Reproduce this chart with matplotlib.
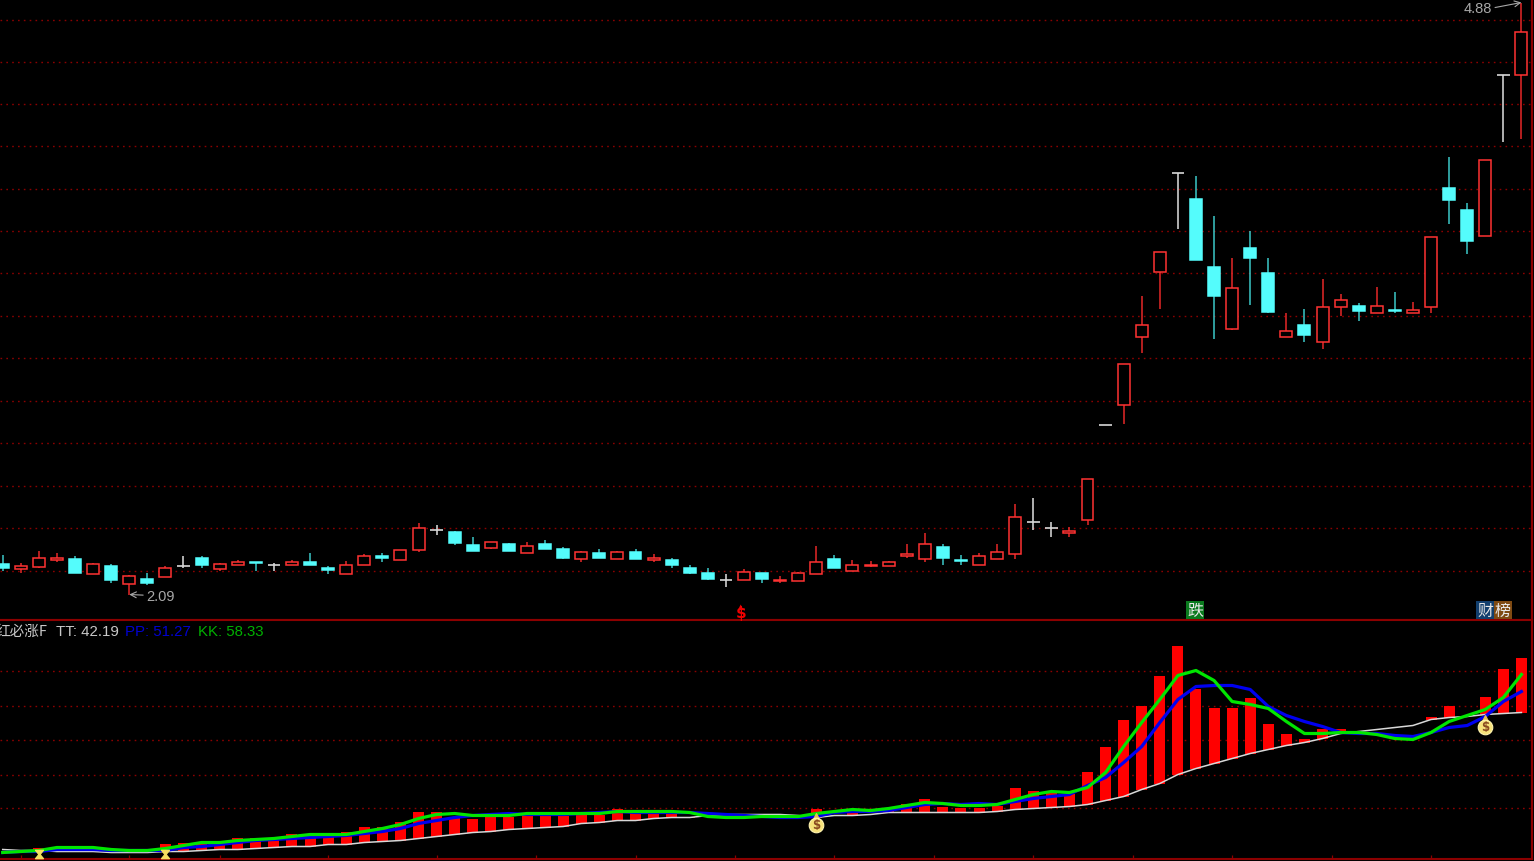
import matplotlib
matplotlib.use('Agg')
import matplotlib.pyplot as plt
import numpy as np

W, H = 1534, 862

# readings taken off the picture on its own (downward) vertical scale, one per session
OPEN = [564, 569, 567, 560, 559, 574, 566, 584, 579, 577, 566, 558, 569, 565, 562, 565, 565, 562, 568, 574, 565,
        556, 560, 550, 530, 532, 545, 548, 544, 553, 544, 549, 559, 553, 559, 552, 560, 560, 568, 573, 580, 580,
        573, 581, 581, 574, 559, 571, 566, 566, 556, 559, 547, 560, 565, 559, 554, 522, 528, 533, 520, 425, 405,
        337, 272, 173, 199, 267, 329, 248, 273, 337, 325, 342, 307, 306, 313, 310, 313, 307, 188, 210, 236, 75, 75]
CLOSE = [568, 566, 558, 558, 573, 564, 580, 577, 583, 568, 566, 565, 564, 562, 563.5, 565, 562, 565, 570, 565, 556,
         558, 550, 528, 530, 543, 551, 543, 551, 547, 549, 558, 552, 558, 552, 559, 558, 565, 573, 579, 580, 573,
         579, 580, 574, 562, 568, 565, 565, 562, 554, 544, 558, 561, 556, 552, 517, 522, 528, 531, 480, 425, 364,
         325, 252, 173, 260, 296, 289, 258, 312, 331, 336, 307, 300, 311, 306, 311, 310, 237, 201, 241, 161, 75, 32]
HIGH = [555, 563, 551, 553, 556, 563, 564, 575, 573, 566, 556, 556, 563, 560, 562, 563, 560, 553, 566, 561, 554,
        553, 550, 523, 525, 531, 537, 543, 543, 542, 540, 547, 551, 549, 551, 549, 554, 558, 565, 568, 574, 569,
        573, 576, 572, 546, 555, 560, 561, 561, 544, 533, 544, 555, 553, 544, 504, 498, 522, 527, 480, 425, 364,
        296, 252, 173, 176, 216, 258, 231, 258, 313, 309, 279, 294, 303, 287, 293, 302, 237, 157, 203, 161, 75, 3]
LOW = [571, 573, 568, 562, 573, 574, 583, 595, 585, 577, 568, 568, 571, 565, 571, 571, 565, 565, 574, 574, 565,
       562, 560, 552, 535, 545, 551, 549, 551, 553, 549, 559, 562, 558, 559, 559, 562, 568, 574, 580, 587, 580,
       583, 583, 581, 574, 568, 571, 567, 566, 558, 562, 565, 565, 565, 559, 559, 530, 537, 537, 525, 425, 424,
       353, 309, 229, 260, 339, 330, 305, 313, 337, 342, 349, 316, 321, 313, 313, 313, 313, 224, 254, 236, 142, 139]

TT = [850, 851, 851, 852, 852, 852, 853, 853, 853, 852, 852, 851, 850, 850, 849, 848, 847, 847, 845, 845, 843,
      842, 841, 839, 837, 835, 833, 832, 830, 829, 828, 827, 824, 823, 821, 821, 819, 818, 818, 816, 815, 815,
      815, 815, 816, 818, 816, 816, 815, 813, 813, 813, 813, 813, 813, 812, 810, 809, 808, 807, 805, 801, 797,
      790, 784, 775, 769, 764, 759, 754, 750, 746, 743, 739, 734, 732, 730, 728, 726, 720, 718, 717, 715, 714, 713]
BAR_TOP = [850, 851, 848, 847, 852, 847, 853, 853, 853, 844, 843, 842, 841, 838, 838, 838, 834, 837, 837, 832, 827,
           827, 822, 812, 812, 817, 819, 817, 817, 814, 815, 816, 812, 815, 809, 812, 812, 813, 817, 816, 815, 815,
           815, 815, 816, 809, 816, 813, 815, 808, 804, 799, 807, 808, 808, 806, 788, 791, 793, 794, 772, 747, 720,
           706, 676, 646, 689, 708, 708, 698, 724, 734, 739, 729, 729, 732, 730, 728, 726, 717, 706, 717, 697, 669, 658]
PP = [853, 852, 852, 850, 850, 850, 851, 851, 851, 851, 848, 847, 845, 843, 841, 840, 839, 838, 837, 836, 834,
      832, 829, 824, 821, 818, 816, 815, 814, 815, 815, 815, 814, 813, 812, 813, 813, 813, 813, 814, 815, 816,
      817, 818, 818, 817, 813, 812, 812, 811, 808, 805, 804, 805, 804, 805, 802, 799, 797, 795, 786, 778, 763,
      747, 723, 700, 687, 686, 686, 690, 707, 716, 722, 727, 733, 734, 734, 736, 737, 733, 728, 726, 717, 702, 692]
KK = [853, 852, 851, 848, 848, 848, 850, 851, 851, 849, 846, 843, 843, 841, 840, 839, 837, 835, 835, 835, 832,
      829, 825, 819, 815, 814, 816, 816, 816, 814, 814, 814, 814, 814, 812, 812, 812, 812, 813, 817, 818, 818,
      817, 817, 817, 814, 812, 810, 811, 809, 806, 803, 804, 806, 806, 805, 800, 795, 792, 793, 788, 773, 747,
      723, 700, 676, 671, 681, 702, 705, 709, 722, 734, 734, 733, 733, 735, 739, 740, 733, 722, 716, 710, 698, 675]

GRID_PRICE = [20, 62.5, 104.5, 146.5, 189, 231, 273, 316, 359, 401, 443, 486, 528, 571]
GRID_IND = [671, 706, 740, 775, 808]
DATE_TICKS = [1, 7, 12, 18, 24, 29.5, 35, 40.5, 46, 51.5, 57, 62.5, 68, 73.5, 79]
BAG_SESSIONS = [45, 82]
BAG_LEVELS = [825, 727]
GLASS_SESSIONS = [2, 9]


def to_price(reading):
    # the two printed extremes, 2.09 and 4.88, fix the price scale
    return 2.09 + (595 - np.asarray(reading, dtype=float)) * (4.88 - 2.09) / (595 - 3)


def to_ind(reading):
    # last TT and KK values fix the indicator scale
    return 42.19 + (713 - np.asarray(reading, dtype=float)) * (58.33 - 42.19) / (713 - 675)


def px_axes(fig, left, top, right, bottom):
    ax = fig.add_axes([left / W, 1 - bottom / H, (right - left) / W, (bottom - top) / H])
    ax.set_facecolor('black')
    ax.set_xlim((left - 2.7) / 18.08, (right - 2.7) / 18.08)
    for side in ax.spines:
        ax.spines[side].set_color('#8c0000')
        ax.spines[side].set_linewidth(1.5)
    ax.spines['left'].set_visible(False)
    ax.tick_params(left=False, labelleft=False, labelbottom=False, bottom=False)
    ax.grid(axis='y', color='#8c0000', linewidth=1.0, linestyle=(0, (1.2, 3.0)))
    ax.set_axisbelow(True)
    return ax


def fig_text(fig, x, y, text, **kw):
    kw.setdefault('va', 'center')
    return fig.text(x / W, 1 - y / H, text, **kw)


def draw_candles(ax):
    x = np.arange(len(OPEN))
    o, c, h, l = to_price(OPEN), to_price(CLOSE), to_price(HIGH), to_price(LOW)
    up = c > o
    down = c < o
    flat = c == o

    ax.vlines(x[up], l[up], h[up], color='#e62828', linewidth=1.1, zorder=2)
    ax.vlines(x[down], l[down], h[down], color='#3cc8c8', linewidth=1.1, zorder=2)
    ax.vlines(x[flat], l[flat], h[flat], color='#e0e0e0', linewidth=1.1, zorder=2)

    ax.bar(x[up], (c - o)[up], 0.66, bottom=o[up], facecolor='black', edgecolor='#ff3232', linewidth=1.1, zorder=3)
    ax.bar(x[down], (c - o)[down], 0.66, bottom=o[down], facecolor='#54fcfc', edgecolor='#54fcfc', linewidth=1.1, zorder=3)
    ax.hlines(o[flat], x[flat] - 0.35, x[flat] + 0.35, color='#d8d8d8', linewidth=1.2, zorder=3)

    ax.annotate('2.09', xy=(7, to_price(595)), xytext=(12, -1), textcoords='offset points',
                color='#a8a8a8', fontsize=10.5, va='center', family='Liberation Sans',
                arrowprops=dict(arrowstyle='->', color='#a8a8a8', lw=0.8, shrinkA=0, shrinkB=0))
    ax.annotate('4.88', xy=(84, to_price(3)), xytext=(-21, -4), textcoords='offset points',
                color='#a8a8a8', fontsize=10.5, va='center', ha='right', family='Liberation Sans',
                annotation_clip=False,
                arrowprops=dict(arrowstyle='->', color='#a8a8a8', lw=0.8, shrinkA=0, shrinkB=0,
                                relpos=(1, 0.5)))


def draw_indicator(ax):
    x = np.arange(len(TT))
    tt, top, pp, kk = to_ind(TT), to_ind(BAR_TOP), to_ind(PP), to_ind(KK)

    ax.bar(x, top - tt, 0.61, bottom=tt, color='#ff0000', linewidth=0, zorder=2)
    ax.plot(x, tt, color='#d8d8d8', linewidth=1.1, zorder=3)
    ax.plot(x, pp, color='#0000f0', linewidth=2.3, zorder=4)
    ax.plot(x, kk, color='#00e600', linewidth=2.3, zorder=5)

    # money bags
    bag_y = to_ind(BAG_LEVELS)
    ax.scatter(BAG_SESSIONS, bag_y + (to_ind(0) - to_ind(8)), s=30, marker='^', color='#e8c050', zorder=6)
    ax.scatter(BAG_SESSIONS, bag_y, s=110, facecolor='#f6e27a', edgecolor='#fff4b0', linewidth=0.8, zorder=6)
    for sx, sy in zip(BAG_SESSIONS, bag_y):
        ax.text(sx, sy, '$', color='#8a4a20', fontsize=8.5, fontweight='bold', ha='center', va='center',
                family='DejaVu Sans', zorder=7)

    # hourglass marks on the floor of the panel
    floor = to_ind(854)
    ax.scatter(GLASS_SESSIONS, [floor] * len(GLASS_SESSIONS), s=36, marker='$\u29d7$', color='#f4e060',
               zorder=6, clip_on=False)


def main():
    plt.rcParams['font.family'] = ['Liberation Sans', 'Noto Sans CJK SC', 'DejaVu Sans']
    fig = plt.figure(figsize=(W / 100, H / 100), dpi=100, facecolor='black')

    ax_price = px_axes(fig, 0, 0, 1532, 621)
    ax_price.spines['top'].set_visible(False)
    ax_price.set_ylim(to_price(620.5), to_price(-0.5))
    ax_price.set_yticks(to_price(GRID_PRICE))
    draw_candles(ax_price)

    ax_ind = px_axes(fig, 0, 621, 1532, 860)
    ax_ind.set_ylim(to_ind(859.5), to_ind(620.5))
    ax_ind.set_yticks(to_ind(GRID_IND))
    ax_ind.set_xticks(DATE_TICKS)
    ax_ind.tick_params(axis='x', bottom=True, direction='in', length=3, width=0.9, color='#8c0000')
    draw_indicator(ax_ind)

    # indicator legend
    cjk = ['Noto Sans CJK SC', 'DejaVu Sans']
    fig_text(fig, -5, 632, '红必涨F', color='#c8c8c8', fontsize=10.5, family=cjk)
    fig_text(fig, 56, 632, 'TT: 42.19', color='#c8c8c8', fontsize=10.8)
    fig_text(fig, 125, 632, 'PP: 51.27', color='#0000d0', fontsize=10.8)
    fig_text(fig, 198, 632, 'KK: 58.33', color='#00b000', fontsize=10.8)

    # event badges sitting on the divider
    badge = dict(ha='center', color='#e8e8e8', fontsize=11.5, family=cjk)
    fig_text(fig, 1195, 611, '跌', bbox=dict(facecolor='#0a7a1e', edgecolor='none', pad=0.5), **badge)
    fig_text(fig, 1485, 611, '财', bbox=dict(facecolor='#123f6e', edgecolor='none', pad=0.5), **badge)
    fig_text(fig, 1503, 611, '榜', bbox=dict(facecolor='#7f4a12', edgecolor='none', pad=0.5), **badge)
    fig_text(fig, 741, 614, '$', color='#f00000', fontsize=11, fontweight='bold', ha='center', family='DejaVu Sans')
    fig_text(fig, 741, 607, '\u25b2', color='#f00000', fontsize=5, ha='center', family='DejaVu Sans')

    fig.savefig('out.png', dpi=100, facecolor='black')


if __name__ == "__main__":
    main()
